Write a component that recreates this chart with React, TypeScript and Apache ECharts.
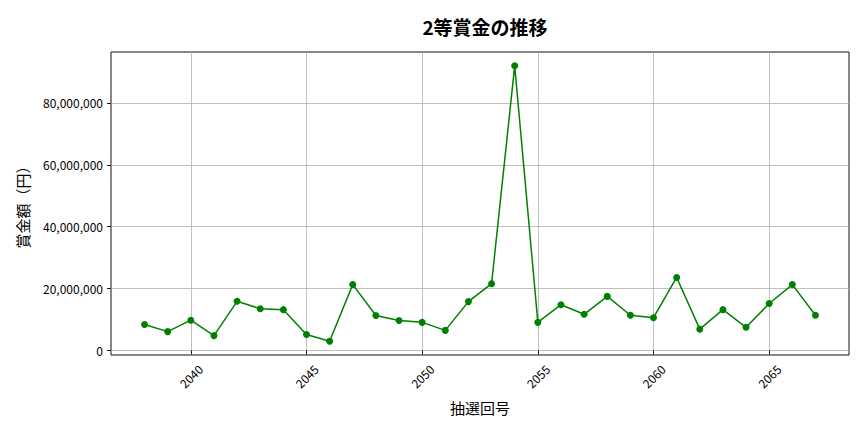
import React, { useEffect, useRef } from 'react';
import * as echarts from 'echarts';

// 抽選回号
const draws = [
  2038, 2039, 2040, 2041, 2042, 2043, 2044, 2045, 2046, 2047,
  2048, 2049, 2050, 2051, 2052, 2053, 2054, 2055, 2056, 2057,
  2058, 2059, 2060, 2061, 2062, 2063, 2064, 2065, 2066, 2067,
];
// 2等賞金（円）
const prizes = [
  8400000, 6100000, 9800000, 4800000, 15900000, 13500000, 13200000, 5200000, 3000000, 21300000,
  11300000, 9700000, 9100000, 6500000, 15800000, 21600000, 92000000, 9100000, 14800000, 11700000,
  17500000, 11400000, 10600000, 23600000, 6900000, 13200000, 7500000, 15200000, 21300000, 11400000,
];
const xTicks = [2040, 2045, 2050, 2055, 2060, 2065];
const yTicks = [0, 20000000, 40000000, 60000000, 80000000];

const font = '"Noto Sans CJK JP", "Noto Sans", sans-serif';

const App: React.FC = () => {
  const chartRef = useRef<HTMLDivElement | null>(null);

  useEffect(() => {
    document.body.style.margin = '0';
    if (!chartRef.current) return;
    const chart = echarts.init(chartRef.current, undefined, { renderer: 'svg' });

    const xPad = (draws[draws.length - 1] - draws[0]) * 0.05;
    const yMin = Math.min(...prizes);
    const yMax = Math.max(...prizes);
    const yPad = (yMax - yMin) * 0.05;

    chart.setOption({
      animation: false,
      textStyle: { fontFamily: font },
      title: {
        text: '2等賞金の推移',
        left: 480,
        top: 12,
        textAlign: 'center',
        textStyle: { fontSize: 19, fontWeight: 'bold', color: '#000', fontFamily: font },
      },
      grid: {
        left: 111,
        right: 15,
        top: 52,
        bottom: 77,
        show: true,
        borderColor: '#111',
        borderWidth: 1,
        backgroundColor: 'transparent',
      },
      xAxis: {
        type: 'value',
        min: draws[0] - xPad,
        max: draws[draws.length - 1] + xPad,
        name: '抽選回号',
        nameLocation: 'middle',
        nameGap: 45,
        nameTextStyle: { fontSize: 15, color: '#000', fontFamily: font },
        axisLine: { show: false },
        axisTick: { show: true, length: 4, lineStyle: { color: '#111' }, customValues: xTicks },
        axisLabel: {
          customValues: xTicks,
          rotate: 45,
          align: 'center',
          verticalAlign: 'middle',
          margin: 21,
          fontSize: 12,
          color: '#000',
          fontFamily: font,
          formatter: (v: number) => String(Math.round(v)),
        },
        splitLine: { show: true, lineStyle: { color: '#b0b0b0', width: 0.8 } },
      },
      yAxis: {
        type: 'value',
        min: yMin - yPad,
        max: yMax + yPad,
        name: '賞金額（円）',
        nameLocation: 'middle',
        nameGap: 81,
        nameTextStyle: { fontSize: 15, color: '#000', fontFamily: font },
        axisLine: { show: false },
        axisTick: { show: true, length: 4, lineStyle: { color: '#111' }, customValues: yTicks },
        axisLabel: {
          customValues: yTicks,
          margin: 8,
          fontSize: 12,
          color: '#000',
          fontFamily: font,
          formatter: (v: number) => Math.round(v).toLocaleString('en-US'),
        },
        splitLine: { show: true, lineStyle: { color: '#b0b0b0', width: 0.8 } },
      },
      series: [
        {
          type: 'line',
          data: draws.map((d, i) => [d, prizes[i]]),
          symbol: 'circle',
          symbolSize: 7,
          itemStyle: { color: '#008000' },
          lineStyle: { color: '#008000', width: 1.5 },
        },
      ],
    });

    return () => {
      chart.dispose();
    };
  }, []);

  return <div ref={chartRef} style={{ width: '864px', height: '432px', background: '#fff' }} />;
};

export default App;
